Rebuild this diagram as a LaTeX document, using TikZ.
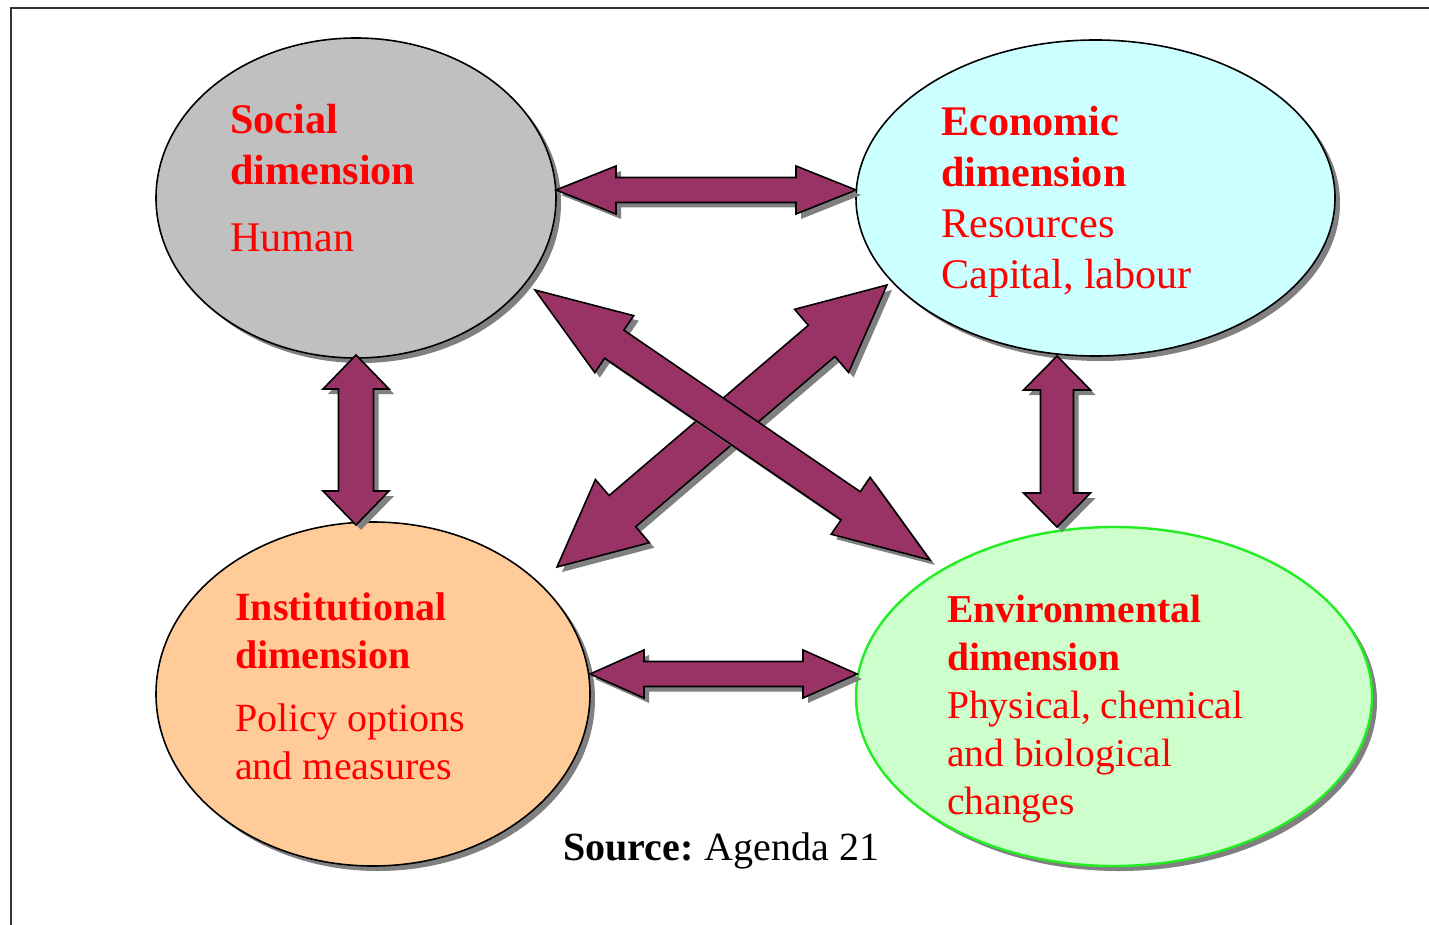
\documentclass[tikz,border=0pt]{standalone}
\usepackage{fontspec}
\setmainfont{Liberation Serif}
\usetikzlibrary{shapes.geometric,shadows,calc}

\definecolor{socgray}{HTML}{C0C0C0}
\definecolor{ecocyan}{HTML}{CCFFFF}
\definecolor{insorange}{HTML}{FFCC99}
\definecolor{envgreen}{HTML}{CCFFCC}
\definecolor{envline}{HTML}{22EE22}
\definecolor{arrpurple}{HTML}{993366}
\definecolor{shadowgray}{HTML}{808080}

\tikzset{
  dimension/.style={ellipse, draw=black, line width=1.6pt, inner sep=0pt,
    drop shadow={shadow xshift=5pt, shadow yshift=-5pt, fill=shadowgray, opacity=1}},
  dimtext/.style={anchor=base west, inner sep=0pt, align=left, text=red},
  arrbody/.style={fill=arrpurple, draw=black, line width=1.6pt, line join=miter},
  arrshadow/.style={fill=shadowgray},
  frame/.style={draw=black!80, line width=2pt}
}

% double arrow between two named points: ends, shaft half width, head half width, head length
\newcommand{\twoway}[5]{%
  \path let \p1=(#1), \p2=(#2) in \pgfextra{%
    \pgfmathsetmacro{\arrX}{\x1}\pgfmathsetmacro{\arrY}{\y1}%
    \pgfmathsetmacro{\arrAng}{atan2(\y2-\y1,\x2-\x1)}%
    \pgfmathsetmacro{\arrLen}{veclen(\x2-\x1,\y2-\y1)}%
    \xdef\arrX{\arrX}\xdef\arrY{\arrY}\xdef\arrAng{\arrAng}\xdef\arrLen{\arrLen}};
  \fill[arrshadow, shift={(\arrX pt+5pt,\arrY pt-5pt)}, rotate=\arrAng]
    (0,0) -- (#5,#4) -- (#5,#3) -- (\arrLen-#5,#3) -- (\arrLen-#5,#4) -- (\arrLen,0)
    -- (\arrLen-#5,-#4) -- (\arrLen-#5,-#3) -- (#5,-#3) -- (#5,-#4) -- cycle;
  \draw[arrbody, shift={(\arrX pt,\arrY pt)}, rotate=\arrAng]
    (0,0) -- (#5,#4) -- (#5,#3) -- (\arrLen-#5,#3) -- (\arrLen-#5,#4) -- (\arrLen,0)
    -- (\arrLen-#5,-#4) -- (\arrLen-#5,-#3) -- (#5,-#3) -- (#5,-#4) -- cycle;
}

\begin{document}
\begin{tikzpicture}[x=1pt,y=-1pt]
\useasboundingbox (0,0) rectangle (1429,925);
\fill[white] (0,0) rectangle (1429,925);
\draw[frame] (11,925) -- (11,8) -- (1429,8);

% the four dimensions
\node[dimension, fill=socgray, minimum width=400pt, minimum height=320pt] (social) at (356,198) {};
\node[dimension, fill=ecocyan, minimum width=479pt, minimum height=316pt] (economic) at (1095.5,198) {};
\node[dimension, fill=insorange, minimum width=434pt, minimum height=344pt] (institutional) at (373,694) {};
\node[dimension, fill=envgreen, draw=envline, line width=2.4pt, minimum width=516pt, minimum height=339pt] (environmental) at (1114,696.5) {};

% texts, placed at the baseline of their last line
\node[dimtext, font=\fontsize{42.2}{51}\selectfont] (soctext) at (230,252)
  {\textbf{Social}\\\textbf{dimension}\\[16pt]Human};
\node[dimtext, font=\fontsize{42.2}{51}\selectfont] (ecotext) at (941,288)
  {\textbf{Economic}\\\textbf{dimension}\\Resources\\Capital, labour};
\node[dimtext, font=\fontsize{40}{48}\selectfont] (instext) at (235,779)
  {\textbf{Institutional}\\\textbf{dimension}\\[15pt]Policy options\\and measures};
\node[dimtext, font=\fontsize{39.5}{48}\selectfont] (envtext) at (947,814)
  {\textbf{Environmental}\\\textbf{dimension}\\Physical, chemical\\and biological\\changes};

\node[anchor=base west, inner sep=0pt, font=\fontsize{40}{48}\selectfont] (source) at (563,860)
  {\textbf{Source:}\hspace{-2pt} Agenda 21};

% arrow ends
\coordinate (socR) at (556,190);
\coordinate (ecoL) at (856,190);
\coordinate (insR) at (590,674);
\coordinate (envL) at (857,674);
\coordinate (socB) at (356,355);
\coordinate (insT) at (356,525);
\coordinate (ecoB) at (1057,356);
\coordinate (envT) at (1057,527);
\coordinate (socX) at (535,290);
\coordinate (envX) at (930,560);
\coordinate (insX) at (557,567);
\coordinate (ecoX) at (887,285);

\twoway{socR}{ecoL}{12.5}{24}{60}
\twoway{insR}{envL}{12.5}{24}{54}
\twoway{socB}{insT}{17.5}{33}{34}
\twoway{ecoB}{envT}{16.5}{33.5}{34}
\twoway{insX}{ecoX}{20.5}{41.5}{86}
\twoway{socX}{envX}{17}{34.5}{96}
\end{tikzpicture}
\end{document}
